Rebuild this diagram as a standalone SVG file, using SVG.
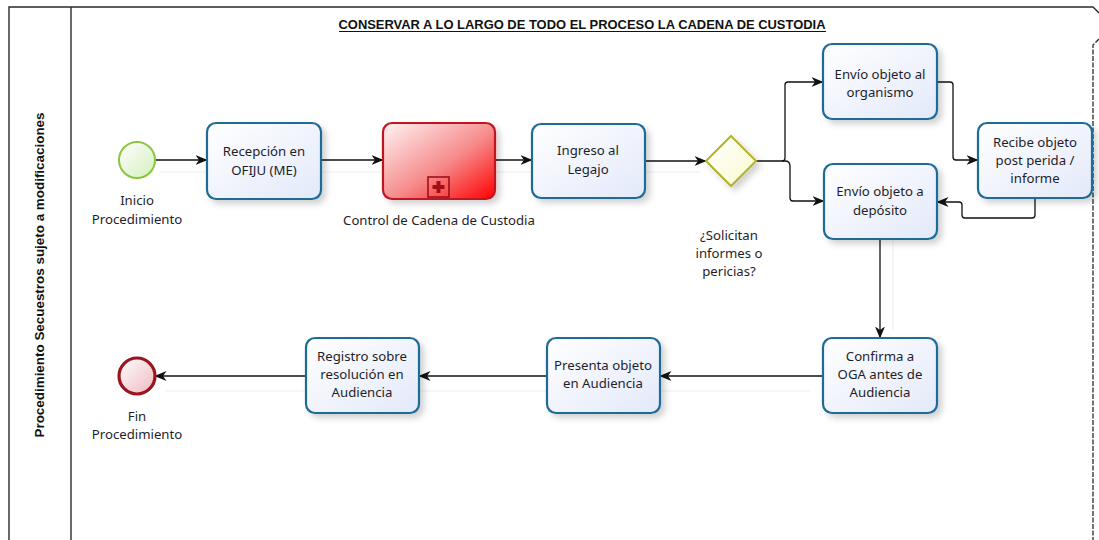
<svg xmlns="http://www.w3.org/2000/svg" width="1099" height="540" viewBox="0 0 1099 540">
<defs>
<style>
.t{font-family:"Noto Sans","Open Sans","Liberation Sans",sans-serif;font-size:13.2px;fill:#1e1e2a;text-anchor:middle}
.task{fill:url(#gTask);stroke:#1d6c96;stroke-width:2.2}
.c{fill:none;stroke:#111;stroke-width:1.3;marker-end:url(#arr)}
.pool{fill:none;stroke:#2a2a2a;stroke-width:1.4}
</style>
<linearGradient id="gTask" x1="0" y1="0" x2="1" y2="1">
<stop offset="0" stop-color="#ffffff"/><stop offset="1" stop-color="#e3e9fa"/>
</linearGradient>
<linearGradient id="gRed" x1="0" y1="0" x2="1" y2="1">
<stop offset="0" stop-color="#fff4f4"/><stop offset="0.55" stop-color="#f68a8a"/><stop offset="1" stop-color="#ff0000"/>
</linearGradient>
<linearGradient id="gStart" x1="0" y1="0" x2="1" y2="1">
<stop offset="0" stop-color="#ffffff"/><stop offset="1" stop-color="#d4efbd"/>
</linearGradient>
<linearGradient id="gEnd" x1="0" y1="0" x2="1" y2="1">
<stop offset="0" stop-color="#ffffff"/><stop offset="1" stop-color="#eeb8c0"/>
</linearGradient>
<linearGradient id="gGw" x1="0" y1="0" x2="1" y2="1">
<stop offset="0" stop-color="#ffffff"/><stop offset="1" stop-color="#fafad0"/>
</linearGradient>
<filter id="sh" x="-20%" y="-20%" width="150%" height="150%">
<feDropShadow dx="4" dy="4" stdDeviation="3" flood-color="#000" flood-opacity="0.18"/>
</filter>
<marker id="arr" viewBox="0 0 12 10" refX="11.5" refY="5" markerWidth="12" markerHeight="10" markerUnits="userSpaceOnUse" orient="auto">
<path d="M0,0 L12,5 L0,10 L3.5,5 z" fill="#111"/>
</marker>
</defs>
<rect width="1099" height="540" fill="#ffffff"/>

<g id="pool">
<path class="pool" d="M9,540 V7 H1093 L1099,13"/>
<line class="pool" x1="71" y1="7" x2="71" y2="540"/>
<path d="M1099,39 L1093,45 V540" fill="none" stroke="#2a2a2a" stroke-width="1.3" stroke-dasharray="5,1.5"/>
<text transform="translate(44,275) rotate(-90)" font-family="'Liberation Sans',Arial,sans-serif" font-size="12.5" font-weight="bold" text-anchor="middle" fill="#111" textLength="325" lengthAdjust="spacingAndGlyphs">Procedimiento Secuestros  sujeto a modificaciones</text>
<text x="582" y="29" font-family="'Liberation Sans',Arial,sans-serif" font-size="13" font-weight="bold" text-anchor="middle" fill="#111" textLength="487" lengthAdjust="spacingAndGlyphs">CONSERVAR A LO LARGO DE TODO EL PROCESO LA CADENA DE CUSTODIA</text>
<line x1="339" y1="31.5" x2="826" y2="31.5" stroke="#111" stroke-width="1"/>
</g>

<g id="connectors">
<g stroke="#eeeeee" stroke-width="1.2" fill="none">
<line x1="160" y1="172" x2="700" y2="172"/>
<line x1="165" y1="391" x2="810" y2="391"/>
<line x1="893" y1="240" x2="893" y2="330"/>
</g>
<line class="c" x1="155" y1="160" x2="207" y2="160"/>
<line class="c" x1="321" y1="160" x2="383" y2="160"/>
<line class="c" x1="495" y1="160" x2="532" y2="160"/>
<line class="c" x1="645" y1="161" x2="706" y2="161"/>
<path class="c" d="M756,161 H782 Q785,161 785,158 V85 Q785,82 788,82 H823"/>
<path class="c" d="M782,161 H785 Q790,161 790,166 V198 Q790,201 793,201 H824"/>
<path class="c" d="M937,82 H950 Q953,82 953,85 V157 Q953,160 956,160 H978"/>
<path class="c" d="M1035,198 V215 Q1035,218 1032,218 H965 Q962,218 962,215 V205 Q962,202 959,202 H937"/>
<line class="c" x1="880" y1="239" x2="880" y2="338"/>
<line class="c" x1="823" y1="376" x2="660" y2="376"/>
<line class="c" x1="547" y1="376" x2="419" y2="376"/>
<line class="c" x1="306" y1="376" x2="155" y2="376"/>
</g>

<g id="start">
<circle cx="137" cy="160" r="18" fill="url(#gStart)" stroke="#8cc63e" stroke-width="2"/>
<text class="t" x="137" y="205">Inicio</text>
<text class="t" x="137" y="224">Procedimiento</text>
</g>

<g id="recepcion">
<rect class="task" x="207" y="123" width="114" height="76" rx="9" filter="url(#sh)"/>
<text class="t" x="264" y="156">Recepción en</text>
<text class="t" x="264" y="175">OFIJU (ME)</text>
</g>

<g id="control">
<rect x="383" y="123" width="112" height="76" rx="9" fill="url(#gRed)" stroke="#c01722" stroke-width="2.2" filter="url(#sh)"/>
<rect x="428" y="177" width="21" height="20" fill="none" stroke="#a01018" stroke-width="1.6"/>
<path d="M436.5,181 h4 v4 h4 v4 h-4 v4 h-4 v-4 h-4 v-4 h4 z" fill="#a01018"/>
<text class="t" x="439" y="225">Control de Cadena de Custodia</text>
</g>

<g id="ingreso">
<rect class="task" x="532" y="124" width="113" height="74" rx="9" filter="url(#sh)"/>
<text class="t" x="588" y="155">Ingreso al</text>
<text class="t" x="588" y="174">Legajo</text>
</g>

<g id="gateway">
<path d="M731,136 L756,161 L731,186 L706,161 z" fill="url(#gGw)" stroke="#b3b32a" stroke-width="2" filter="url(#sh)"/>
<text class="t" x="729" y="240">¿Solicitan</text>
<text class="t" x="729" y="258">informes o</text>
<text class="t" x="729" y="276">pericias?</text>
</g>

<g id="envio-organismo">
<rect class="task" x="823" y="44" width="114" height="75" rx="9" filter="url(#sh)"/>
<text class="t" x="880" y="79">Envío objeto al</text>
<text class="t" x="880" y="97">organismo</text>
</g>

<g id="recibe">
<rect class="task" x="978" y="123" width="114" height="75" rx="9" filter="url(#sh)"/>
<text class="t" x="1035" y="147">Recibe objeto</text>
<text class="t" x="1035" y="165">post perida /</text>
<text class="t" x="1035" y="183">informe</text>
</g>

<g id="envio-deposito">
<rect class="task" x="824" y="164" width="113" height="75" rx="9" filter="url(#sh)"/>
<text class="t" x="880" y="196">Envío objeto a</text>
<text class="t" x="880" y="215">depósito</text>
</g>

<g id="confirma">
<rect class="task" x="823" y="338" width="114" height="75" rx="9" filter="url(#sh)"/>
<text class="t" x="880" y="361">Confirma a</text>
<text class="t" x="880" y="379">OGA antes de</text>
<text class="t" x="880" y="397">Audiencia</text>
</g>

<g id="presenta">
<rect class="task" x="547" y="338" width="113" height="75" rx="9" filter="url(#sh)"/>
<text class="t" x="603" y="370">Presenta objeto</text>
<text class="t" x="603" y="388">en Audiencia</text>
</g>

<g id="registro">
<rect class="task" x="306" y="338" width="113" height="75" rx="9" filter="url(#sh)"/>
<text class="t" x="362" y="361">Registro sobre</text>
<text class="t" x="362" y="379">resolución en</text>
<text class="t" x="362" y="397">Audiencia</text>
</g>

<g id="end">
<circle cx="137" cy="376" r="18" fill="url(#gEnd)" stroke="#9b1520" stroke-width="3.2"/>
<text class="t" x="137" y="421">Fin</text>
<text class="t" x="137" y="439">Procedimiento</text>
</g>
</svg>
